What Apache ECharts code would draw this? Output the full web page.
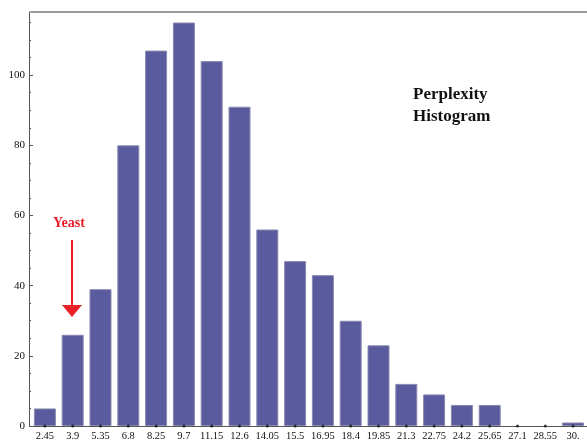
<!DOCTYPE html>
<html>
<head>
<meta charset="utf-8">
<script src="https://cdn.jsdelivr.net/npm/echarts@6/dist/echarts.min.js"></script>
<style>html,body{margin:0;padding:0;background:#fff;}#c{width:587px;height:442px;}</style>
</head>
<body>
<div id="c"></div>
<script>
const categories = ['2.45','3.9','5.35','6.8','8.25','9.7','11.15','12.6','14.05','15.5','16.95','18.4','19.85','21.3','22.75','24.2','25.65','27.1','28.55','30.'];
const counts = [5, 26, 39, 80, 107, 115, 104, 91, 56, 47, 43, 30, 23, 12, 9, 6, 6, 0, 0, 1];
const majorTicks = [0, 20, 40, 60, 80, 100];
const minorTicks = [5,10,15,25,30,35,45,50,55,65,70,75,85,90,95,105,110,115];
const yMax = 118;
const baseDots = categories.map(() => 0);

const chart = echarts.init(document.getElementById('c'), null, {renderer: 'canvas'});
const serif = '"Liberation Serif", "DejaVu Serif", serif';
chart.setOption({
  animation: false,
  backgroundColor: '#fff',
  grid: {left: 31, right: -7, top: 12, bottom: 14, containLabel: false},
  xAxis: [{
    type: 'category', data: categories, position: 'bottom',
    axisLine: {onZero: false, lineStyle: {color: '#555', width: 1}},
    axisTick: {show: false},
    axisLabel: {fontFamily: serif, fontSize: 10.5, color: '#111', margin: 5, interval: 0}
  }, {
    type: 'category', data: categories, position: 'top',
    axisLine: {show: true, onZero: false, lineStyle: {color: '#9a9a9a', width: 2}},
    axisTick: {show: false}, axisLabel: {show: false}
  }],
  yAxis: [{
    type: 'value', min: 0, max: yMax, offset: 2,
    axisLine: {show: true, onZero: false, lineStyle: {color: '#555'}},
    axisTick: {show: true, inside: true, length: 4, customValues: majorTicks, lineStyle: {color: '#555'}},
    axisLabel: {customValues: majorTicks, fontFamily: serif, fontSize: 11, color: '#111', margin: 4},
    splitLine: {show: false}
  }, {
    type: 'value', min: 0, max: yMax, offset: 2, position: 'left',
    axisLine: {show: false},
    axisTick: {show: true, inside: true, length: 2, customValues: minorTicks, lineStyle: {color: '#555'}},
    axisLabel: {show: false},
    splitLine: {show: false}
  }],
  series: [{
    type: 'bar', barWidth: 22,
    data: counts.map(v => v === 0 ? {value: v, itemStyle: {borderWidth: 0}} : v),
    itemStyle: {color: '#5a5a9e', borderColor: '#8a8ab0', borderWidth: 1}
  }, {
    type: 'scatter', data: baseDots, symbol: 'circle', symbolSize: 3, clip: false,
    itemStyle: {color: '#111'}, z: 5
  }],
  graphic: [
    {type: 'text', left: 413, top: 84, style: {text: 'Perplexity\nHistogram', font: 'bold 17px ' + serif, fill: '#111', lineHeight: 22}},
    {type: 'text', left: 53, top: 216, style: {text: 'Yeast', font: 'bold 14px ' + serif, fill: '#e8202a'}},
    {type: 'line', shape: {x1: 72, y1: 240, x2: 72, y2: 306}, style: {stroke: '#e8202a', lineWidth: 2}},
    {type: 'polygon', shape: {points: [[62, 305], [82, 305], [72, 317]]}, style: {fill: '#e8202a'}}
  ]
});
</script>
</body>
</html>
